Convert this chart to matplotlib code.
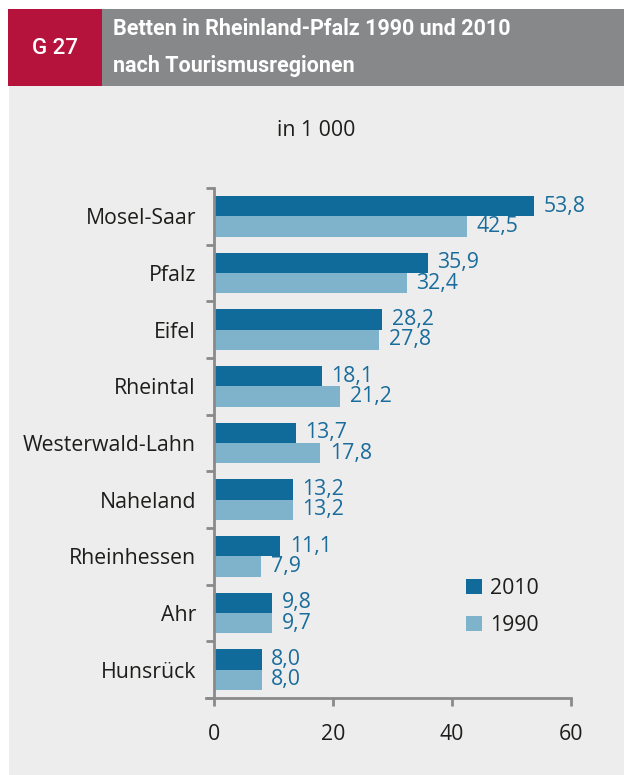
import matplotlib
matplotlib.use("Agg")
import matplotlib.pyplot as plt
from matplotlib.patches import Rectangle
from matplotlib.ticker import FixedLocator

plt.rcParams['font.family'] = ['Open Sans', 'DejaVu Sans']

categories = ["Mosel-Saar", "Pfalz", "Eifel", "Rheintal", "Westerwald-Lahn",
              "Naheland", "Rheinhessen", "Ahr", "Hunsrück"]
values_2010 = [53.8, 35.9, 28.2, 18.1, 13.7, 13.2, 11.1, 9.8, 8.0]
values_1990 = [42.5, 32.4, 27.8, 21.2, 17.8, 13.2, 7.9, 9.7, 8.0]
series_labels = ["2010", "1990"]
x_ticks = [0, 20, 40, 60]

W, H = 624, 775
fig = plt.figure(figsize=(W / 100, H / 100), dpi=100)
fig.patch.set_facecolor("white")

bg = "#ECEDEC"
fs = 15.3
# panel background
fig.add_artist(Rectangle((9 / W, 0), (W - 9) / W, (H - 86) / H, transform=fig.transFigure,
                         facecolor=bg, edgecolor="none", zorder=0))
# header
fig.add_artist(Rectangle((8 / W, (H - 86) / H), (102 - 8) / W, 77 / H, transform=fig.transFigure,
                         facecolor="#B5123C", edgecolor="none", zorder=0))
fig.add_artist(Rectangle((102 / W, (H - 86) / H), (W - 102) / W, 77 / H, transform=fig.transFigure,
                         facecolor="#87888A", edgecolor="none", zorder=0))
hfam = ['Roboto', 'DejaVu Sans']
fig.text(55 / W, 1 - 48 / H, "G 27", color="white", fontsize=16, fontweight="medium",
         ha="center", va="center", family=hfam)
fig.text(113 / W, 1 - 29 / H, "Betten in Rheinland-Pfalz 1990 und 2010", color="white",
         fontsize=15.5, fontweight="bold", ha="left", va="center", family=hfam)
fig.text(113 / W, 1 - 66 / H, "nach Tourismusregionen", color="white",
         fontsize=15.5, fontweight="bold", ha="left", va="center", family=hfam)

fig.text(316 / W, 1 - 130 / H, "in 1 000", color="#1d1d1b", fontsize=fs, ha="center", va="center")

ax = fig.add_axes([214 / W, 1 - 698 / H, (571 - 214) / W, (698 - 188) / H])
ax.set_facecolor("none")

dark = "#106A9A"
light = "#7FB3CB"
txtc = "#1A6C9C"
h = 0.36
idx = list(range(len(categories)))
ax.barh([i - h / 2 for i in idx], values_2010, height=h, color=dark, label=series_labels[0])
ax.barh([i + h / 2 for i in idx], values_1990, height=h, color=light, label=series_labels[1])

for i in idx:
    ax.annotate(f"{values_2010[i]:.1f}".replace(".", ","), (values_2010[i], i - h / 2),
                xytext=(7, 0), textcoords="offset points", va="center", ha="left",
                color=txtc, fontsize=fs)
    ax.annotate(f"{values_1990[i]:.1f}".replace(".", ","), (values_1990[i], i + h / 2),
                xytext=(7, 0), textcoords="offset points", va="center", ha="left",
                color=txtc, fontsize=fs)

ax.set_xlim(0, 60)
ax.set_ylim(len(categories) - 0.5, -0.5)
ax.set_yticks(idx)
ax.set_yticklabels(categories, fontsize=fs, color="#1d1d1b")
ax.yaxis.set_minor_locator(FixedLocator([i - 0.5 for i in range(len(categories) + 1)]))
ax.tick_params(axis="y", which="major", length=0, pad=13)
ax.tick_params(axis="y", which="minor", length=6, width=2, color="#8A8A8A")
ax.set_xticks(x_ticks)
ax.set_xticklabels([str(t) for t in x_ticks], fontsize=fs, color="#1d1d1b")
ax.tick_params(axis="x", length=6, width=2, color="#8A8A8A", pad=13)

for s in ["top", "right"]:
    ax.spines[s].set_visible(False)
for s in ["left", "bottom"]:
    ax.spines[s].set_color("#8A8A8A")
    ax.spines[s].set_linewidth(2)
ax.spines["bottom"].set_bounds(-1.4, 60)
ax.spines["bottom"].set_clip_on(False)

leg = ax.legend(loc="upper left", bbox_to_anchor=(252 / 357, 1 - (578 - 188) / 510),
                frameon=False, fontsize=fs, handlelength=0.75, handleheight=0.75,
                handletextpad=0.4, labelspacing=0.75, borderaxespad=0, borderpad=0)
for t in leg.get_texts():
    t.set_color("#1d1d1b")

fig.savefig("out.png", dpi=100, facecolor=fig.get_facecolor())
